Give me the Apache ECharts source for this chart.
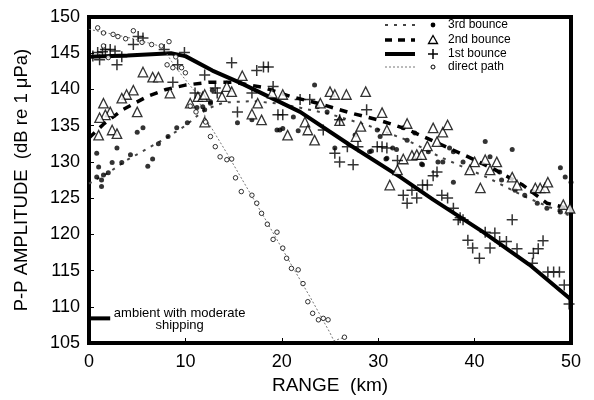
<!DOCTYPE html>
<html>
<head>
<meta charset="utf-8">
<script src="https://cdn.jsdelivr.net/npm/echarts@6/dist/echarts.min.js"></script>
<style>html,body{margin:0;padding:0;background:#fff}#c{width:594px;height:400px}</style>
</head>
<body>
<div id="c"></div>
<script>
// ---- data (range km, amplitude dB) ----
const firstBounceLine = [[0,144.5],[4,144.7],[8.5,145],[10,144.6],[12.8,142.6],[15.7,140.9],[21.9,136.9],[27.1,132.3],[32.3,127.9],[35.7,124.8],[40.9,120.3],[45.7,115.8],[50,111]];
const secondBounceLine = [[0,133.3],[1.5,135.2],[3.5,137.2],[6,139],[8,140],[10,140.6],[12.5,141],[15,141],[18,140.3],[21,139],[24,138],[27,136.8],[30,135.8],[33,134.5],[36,132.7],[39,130.9],[42,129],[45,126.8],[47.5,124.3],[50,123.5]];
const thirdBounceLine = [[0,127],[2,128.5],[4,130.3],[6,131.8],[8,133.3],[10,135],[12,137.2],[14,138.2],[17,138.4],[20,138],[25,136.6],[29,135],[33,133],[36.4,130.7],[41.4,127.8],[45.2,125.2],[50,122.5]];
const directPathLine = [[0,148.3],[4,147.2],[7.6,145.9],[8.6,143.8],[9.6,142],[11,139.7],[12.2,135.8],[14.3,131.2],[15.7,128],[18.5,121.6],[20.9,116],[23,111.2],[25,106.4],[25.4,105.3],[26.5,105.8]];
const ambientLine = [[0,108.4],[2.2,108.4]];

const firstBounce = [[0.4,144.6],[0.9,145.1],[1.1,144.1],[1.4,145.2],[1.7,145.5],[2.2,145.5],[2.7,145.3],[2.9,143.4],[3.4,144.5],[4.6,146.2],[5.1,147.3],[5.6,147.1],[7.8,145.5],[9.2,143.4],[8.7,141],[9.9,145.1],[12,142],[11,139.5],[14.8,143.7],[17.4,142.6],[18.1,143.1],[18.6,143.1],[13.1,140.2],[13.3,139.5],[15.4,136.9],[16.9,139.5],[19.1,140.4],[19.6,136.5],[20.1,136.5],[21.9,138.6],[22.9,138.6],[24.3,134.4],[28.8,137.2],[26.8,132.1],[27.9,132.1],[25.5,131.2],[26,130],[27.4,129.6],[29.9,132.1],[30.4,132.1],[30.9,131.9],[32,130.2],[26,135.8],[34.6,126.8],[35.1,126.8],[36.1,128.6],[35.7,128.1],[32.6,125.4],[33,124.3],[34,125],[33.5,126.1],[36.6,125.4],[37.2,125],[37.8,123.6],[38.5,122.3],[43.9,122],[38.3,122],[38.8,122],[39.3,119.2],[39.8,118.1],[40.5,116.7],[41.1,120.3],[42.1,120.2],[41.6,118.1],[42.6,119],[43.3,119],[44.4,118],[46,116],[46.1,117.4],[46.6,118],[47.1,119.1],[47.6,114.8],[48.2,114.8],[48.8,114.8],[49.3,113],[49.8,110.4]];
const secondBounce = [[5.6,142.4],[6.6,141.7],[7.2,141.7],[4.6,139.9],[3.9,139.3],[3.4,138.8],[1.5,138.1],[2.2,136.9],[1.7,136.5],[1.1,136.1],[5,136.9],[8.4,139.5],[11.3,139],[11.8,139],[10.5,138.1],[2.4,134.4],[2.9,133.9],[1,133.7],[15.9,141.9],[14.3,140.4],[14.8,139.7],[12,139.3],[13.8,139],[17.5,138.1],[16.9,136.6],[17.9,135.8],[20.1,139.3],[19,139.5],[20.6,133.7],[22.4,135.5],[22.7,134.4],[23.4,133],[12,135.5],[24,138.1],[25,139.7],[25.5,139.3],[26.7,139.3],[28.7,139.7],[26,135.7],[28.2,134.9],[30.4,136.8],[30.9,134.4],[33,135.3],[27.7,133.5],[32.6,130.4],[33.5,130.9],[34,131],[34.5,131],[35.1,132.2],[32,128.9],[31.2,126.8],[35.7,134.7],[36.7,134.1],[37.2,135.1],[36.1,132.8],[40,130],[41.1,130.3],[42.3,130],[39.5,128.9],[41.6,128.9],[40.6,126.4],[43.9,127.9],[44.4,126.8],[46.3,126.4],[46.8,126.4],[47.3,126.4],[47.6,127.2],[49.2,124.1],[49.9,123.6]];
const thirdBounce = [[0.8,131.2],[1,129.3],[2.9,131.9],[1.3,127.5],[2.4,129.9],[3.4,129.9],[4.3,131],[5,134.1],[5.6,134.7],[7.2,132.5],[6.6,130.4],[6.1,129.4],[8.2,133.5],[9.1,134.7],[10.2,135.4],[11.2,137.5],[11.8,137.6],[12.6,138.1],[15.4,135.4],[19.5,134.4],[0.8,127.9],[1.5,128.2],[2,128.5],[1.3,126.6],[23.4,140.6],[12.6,138.3],[12,137.2],[16.9,135.8],[19.8,134.4],[20.1,134.6],[21.7,134.3],[12.8,139.9],[29.1,131.4],[25.5,131.9],[30.9,130.5],[31.5,131.9],[21.2,136.2],[23.7,137.6],[24.7,136.9],[26,135.8],[27.6,133.7],[29.9,134.4],[30.2,133.5],[33,133],[29.3,131.5],[30.8,130.4],[34.5,129.7],[31.9,131.7],[41.1,132.8],[43.9,131.7],[48.9,129.2],[49.4,127.9],[34.6,129.6],[36.2,130],[36.7,130],[37.8,127.2],[35.2,131.4],[41.6,130.7],[42.6,128.6],[45.2,125.4],[46.5,124.3],[47.5,123.6],[48.9,123.1],[32.6,134.7],[33.8,134],[37.4,131.9],[37.8,131.4],[38.8,130],[42.8,127.5],[44.2,126.1],[46,125.9],[50,127.2]];
const directPath = [[0.9,148.5],[1.5,146],[2,144.4],[4.6,148.1],[1.5,147.8],[2.5,147.6],[3,147.3],[3.8,147],[5.5,146.5],[6.5,146.2],[7.5,146],[8.3,146.6],[8.1,143.4],[8.7,143],[9,144.5],[9.6,143],[10,142.3],[10.5,137.7],[11.1,136.9],[12.1,135.5],[12.6,133.5],[13.1,132.1],[13.6,130.7],[14.3,130.3],[14.8,130.4],[15.2,127.8],[15.8,125.9],[16.9,125.4],[17.4,124.3],[17.9,122.9],[18.5,121.4],[19.5,120.3],[19.1,119.3],[20.1,118.1],[20.5,116.7],[21,115.3],[21.7,115.1],[22.2,113.2],[22.7,110.7],[23.2,109.1],[23.8,108.2],[24.3,108.4],[24.8,108.2],[26.5,105.8]];

const legendNames = ['3rd bounce','2nd bounce','1st bounce','direct path'];
const xAxisTitle = 'RANGE  (km)';
const yAxisTitle = 'P-P AMPLITUDE  (dB re 1 \u03bcPa)';
const ambientText = 'ambient with moderate\nshipping';

const FONT = '"Liberation Sans", Arial, Helvetica, sans-serif';
const chart = echarts.init(document.getElementById('c'), null, {renderer:'canvas'});
const PLUS = 'path://M0,5L10,5M5,0L5,10';

function lineSeries(data, style, z){
  return {type:'line', data, symbol:'none', silent:true, z, lineStyle:style, animation:false};
}
function scatter(data, symbol, size, itemStyle, z){
  return {type:'scatter', data, symbol, symbolSize:size, itemStyle, silent:true, z, animation:false};
}

const lx1 = 385, lx2 = 415, mx = 433, tx = 448, rows = [25, 40, 54, 67];
const legendGraphics = [];
const lineStyles = [
  {stroke:'#444', lineWidth:2, lineDash:[3,6]},
  {stroke:'#000', lineWidth:3.5, lineDash:[7,6]},
  {stroke:'#000', lineWidth:4},
  {stroke:'#777', lineWidth:1, lineDash:[2,2]}
];
rows.forEach((y, i) => {
  legendGraphics.push({type:'line', shape:{x1:lx1, y1:y, x2:lx2, y2:y}, style:lineStyles[i], silent:true});
  legendGraphics.push({type:'text', x:tx, y:y, style:{text:legendNames[i], font:'12px '+FONT, fill:'#000', textVerticalAlign:'middle'}, silent:true});
});
legendGraphics.push({type:'circle', shape:{cx:mx, cy:rows[0], r:2.4}, style:{fill:'#000'}, silent:true});
legendGraphics.push({type:'polygon', shape:{points:[[mx,rows[1]-4.5],[mx-4.5,rows[1]+3.5],[mx+4.5,rows[1]+3.5]]}, style:{fill:'#fff', stroke:'#000', lineWidth:1.3}, silent:true});
legendGraphics.push({type:'line', shape:{x1:mx-5, y1:rows[2], x2:mx+5, y2:rows[2]}, style:{stroke:'#000', lineWidth:1.5}, silent:true});
legendGraphics.push({type:'line', shape:{x1:mx, y1:rows[2]-5, x2:mx, y2:rows[2]+5}, style:{stroke:'#000', lineWidth:1.5}, silent:true});
legendGraphics.push({type:'circle', shape:{cx:mx, cy:rows[3], r:2}, style:{fill:'#fff', stroke:'#000', lineWidth:1}, silent:true});

const option = {
  animation:false,
  backgroundColor:'#fff',
  grid:{left:89, right:23, top:17, bottom:57, show:true, borderColor:'#000', borderWidth:4, backgroundColor:'transparent'},
  xAxis:{
    type:'value', min:0, max:50, interval:10,
    name:xAxisTitle, nameLocation:'middle', nameGap:33,
    nameTextStyle:{fontFamily:FONT, fontSize:19, color:'#000'},
    axisLine:{show:true, lineStyle:{color:'#000', width:4}},
    axisTick:{show:true, inside:true, length:5, lineStyle:{color:'#000', width:1}},
    axisLabel:{fontFamily:FONT, fontSize:18, color:'#000', margin:10},
    splitLine:{show:false}
  },
  yAxis:{
    type:'value', min:105, max:150, interval:5,
    name:yAxisTitle, nameLocation:'middle', nameGap:58,
    nameTextStyle:{fontFamily:FONT, fontSize:18.5, color:'#000'},
    axisLine:{show:true, lineStyle:{color:'#000', width:4}},
    axisTick:{show:true, inside:true, length:5, lineStyle:{color:'#000', width:1}},
    axisLabel:{fontFamily:FONT, fontSize:18, color:'#000', margin:9},
    splitLine:{show:false}
  },
  series:[
    lineSeries(thirdBounceLine, {color:'#444', width:2, type:[3,6]}, 2),
    lineSeries(secondBounceLine, {color:'#000', width:3.5, type:[8,7]}, 2),
    lineSeries(firstBounceLine, {color:'#000', width:4}, 2),
    lineSeries(directPathLine, {color:'#777', width:1, type:[2,2]}, 2),
    lineSeries(ambientLine, {color:'#000', width:4}, 2),
    scatter(thirdBounce, 'circle', 5, {color:'#000'}, 3),
    scatter(secondBounce, 'triangle', 9.5, {color:'#fff', borderColor:'#000', borderWidth:1.3}, 3),
    scatter(firstBounce, PLUS, 11, {color:'none', borderColor:'#000', borderWidth:1.5}, 3),
    scatter(directPath, 'circle', 4.5, {color:'#fff', borderColor:'#000', borderWidth:1}, 3)
  ]
};
chart.setOption(option);

const ambientPos = chart.convertToPixel({gridIndex:0}, [9.4, 108.4]);
chart.setOption({
  graphic: legendGraphics.concat([
    {type:'text', x:ambientPos[0], y:ambientPos[1]-11, style:{text:ambientText, font:'13px '+FONT, fill:'#000', textAlign:'center', lineHeight:12}, silent:true}
  ])
});
</script>
</body>
</html>
